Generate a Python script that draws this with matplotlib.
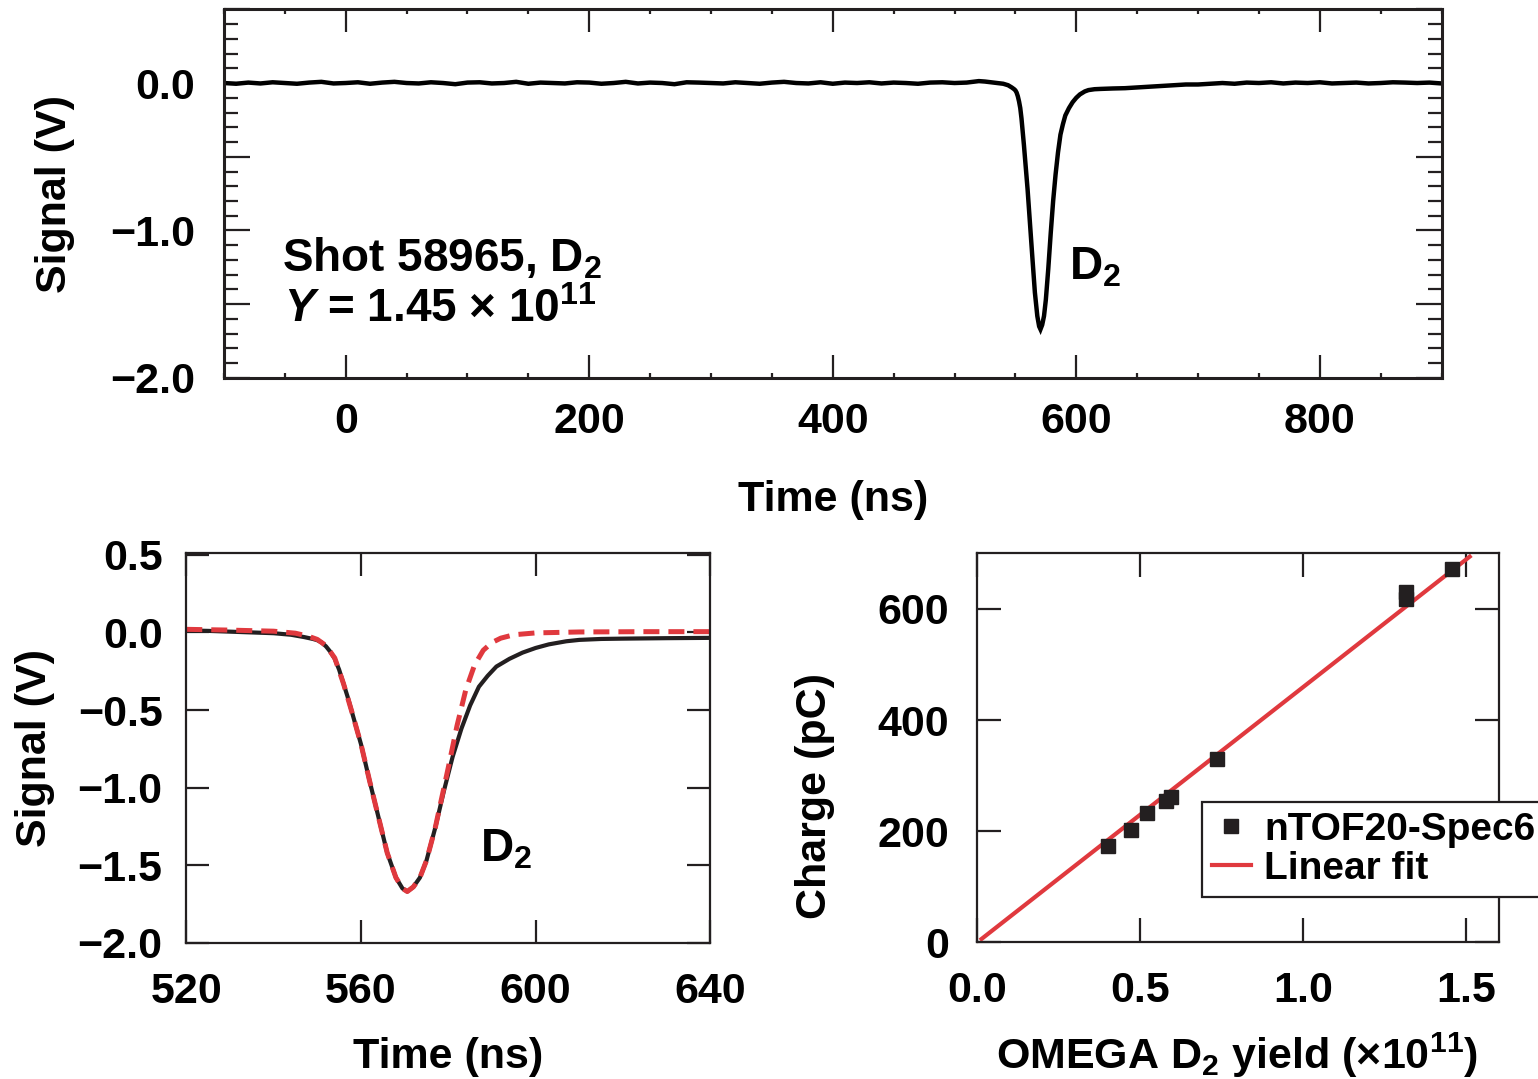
import numpy as np
import matplotlib
matplotlib.use("Agg")
import matplotlib.pyplot as plt
from matplotlib.ticker import MultipleLocator, FixedLocator, FuncFormatter

plt.rcParams['font.family'] = ['Liberation Sans', 'DejaVu Sans']
plt.rcParams['font.weight'] = 'bold'
plt.rcParams['mathtext.fontset'] = 'custom'
plt.rcParams['mathtext.rm'] = 'Liberation Sans:bold'
plt.rcParams['mathtext.it'] = 'Liberation Sans:italic:bold'
plt.rcParams['mathtext.bf'] = 'Liberation Sans:bold'
plt.rcParams['axes.unicode_minus'] = True

BLACK = '#231F20'
RED = '#E0393E'

# ---------------- data ----------------
# full trace (top panel): pre-pulse baseline, pulse, post-pulse baseline
pre_time = np.arange(-100, 520, 10)
pre_signal = [0.0, -0.005, 0.003, -0.003, 0.005, 0.0, -0.005, 0.003, 0.008, -0.003,
              0.0, 0.005, -0.005, 0.003, 0.008, 0.0, -0.003, 0.005, 0.0, -0.008,
              0.003, 0.005, -0.003, 0.0, 0.008, -0.005, 0.003, 0.0, -0.003, 0.005,
              0.003, -0.005, 0.0, 0.008, -0.003, 0.003, 0.0, -0.008, 0.005, 0.003,
              0.0, -0.003, 0.005, 0.0, -0.005, 0.003, 0.008, 0.0, -0.003, 0.005,
              -0.005, 0.003, 0.0, 0.005, -0.003, 0.003, 0.0, -0.005, 0.003, 0.005,
              0.0, 0.003]

pulse_time = [520, 525, 530, 535, 540, 544, 547, 549, 550, 551,
              552, 553, 554, 555, 556, 557, 558, 560, 562, 564,
              566, 568, 569.5, 570.6, 572, 573.5, 575, 577, 579, 581,
              583, 585, 587, 589, 591, 594, 597, 600, 603, 607,
              610, 615, 620, 630, 640]
pulse_signal = [0.013, 0.01, 0.005, 0.0, -0.005, -0.015, -0.03, -0.042, -0.05, -0.065,
                -0.09, -0.125, -0.17, -0.24, -0.33, -0.42, -0.52, -0.72, -0.96, -1.19,
                -1.42, -1.58, -1.65, -1.67, -1.64, -1.58, -1.47, -1.26, -1.02, -0.80,
                -0.62, -0.47, -0.35, -0.28, -0.22, -0.17, -0.13, -0.10, -0.077, -0.057,
                -0.048, -0.042, -0.04, -0.037, -0.035]

post_time = np.arange(650, 910, 10)
post_signal = [-0.03, -0.025, -0.02, -0.015, -0.01, -0.01, -0.005, 0.0, -0.005, 0.003,
               0.0, 0.005, -0.003, 0.003, 0.0, 0.005, -0.003, 0.0, 0.003, -0.003,
               0.0, 0.005, 0.003, 0.0, 0.003, -0.003]

# fit of the pulse (bottom-left, red dashed)
fit_time = [520, 530, 540, 545, 548, 550, 552, 554, 556, 558,
            560, 562, 564, 566, 568, 569.5, 570.6, 572, 573.5, 575,
            577, 578, 580, 582, 584, 586, 588, 590, 592, 595,
            600, 610, 625, 640]
fit_signal = [0.02, 0.015, 0.008, -0.005, -0.025, -0.045, -0.085, -0.165, -0.33, -0.52,
              -0.72, -0.96, -1.19, -1.42, -1.58, -1.65, -1.67, -1.64, -1.58, -1.47,
              -1.26, -1.13, -0.87, -0.60, -0.37, -0.21, -0.115, -0.065, -0.037, -0.015,
              -0.003, 0.003, 0.005, 0.005]

# calibration (bottom-right)
yield_1e11 = [0.401, 0.472, 0.522, 0.580, 0.595, 0.737, 1.316, 1.316, 1.456]
charge_pC = [174, 202, 233, 255, 262, 330, 630, 618, 671]
linfit_x = [0.015, 1.51]
linfit_y = [6, 694]

# ---------------- figure ----------------
fig = plt.figure(figsize=(15.38, 10.79), dpi=100)
ax1 = fig.add_axes([0.1456, 0.6497, 0.7917, 0.3417])
ax2 = fig.add_axes([0.1211, 0.1263, 0.3408, 0.3609])
ax3 = fig.add_axes([0.6350, 0.1267, 0.3397, 0.3605])

TICK_FS = 31
LABEL_FS = 31
ANN_FS = 33


def style(ax, spine_lw):
    for s in ax.spines.values():
        s.set_linewidth(spine_lw)
        s.set_color(BLACK)
    ax.tick_params(which='both', direction='in', top=True, right=True,
                   color=BLACK, labelcolor='black', labelsize=TICK_FS, width=1.6)


def fmt1(v, pos):
    s = f"{v:.1f}"
    return s.replace('-', '\u2212')

# ---- top panel ----
trace_time = np.concatenate([pre_time, pulse_time, post_time])
trace_signal = np.concatenate([pre_signal, pulse_signal, post_signal])
ax1.plot(trace_time, trace_signal, color='black', lw=3.2, solid_joinstyle='miter')
ax1.set_xlim(-100, 900)
ax1.set_ylim(-2.0, 0.5)
style(ax1, 2.2)
ax1.xaxis.set_major_locator(MultipleLocator(200))
ax1.xaxis.set_minor_locator(MultipleLocator(50))
ax1.yaxis.set_major_locator(MultipleLocator(0.5))
ax1.yaxis.set_minor_locator(MultipleLocator(0.1))
ax1.yaxis.set_major_formatter(FuncFormatter(
    lambda v, p: fmt1(v, p) if abs(v - round(v)) < 1e-6 else ''))
ax1.tick_params(axis='x', which='major', length=16.5, pad=17)
ax1.tick_params(axis='x', which='minor', length=3.6)
ax1.tick_params(axis='y', which='major', length=18.7, pad=21)
ax1.tick_params(axis='y', which='minor', length=10)
ax1.set_xlabel('Time (ns)', fontsize=LABEL_FS, fontweight='bold')
ax1.xaxis.set_label_coords(0.5, -0.331)
ax1.xaxis.label.set_va('center')
ax1.set_ylabel('Signal (V)', fontsize=LABEL_FS, fontweight='bold')
ax1.yaxis.set_label_coords(-0.1388, 0.5)
ax1.yaxis.label.set_va('center')
ax1.text(-52.4, -1.275, r'Shot 58965, D$_2$', fontsize=ANN_FS, fontweight='bold',
         ha='left', va='baseline')
ax1.text(-50.5, -1.62, r'$Y$ = 1.45 × 10$^{11}$', fontsize=ANN_FS, fontweight='bold',
         ha='left', va='baseline')
ax1.text(594.2, -1.33, r'D$_2$', fontsize=ANN_FS, fontweight='bold',
         ha='left', va='baseline')

# ---- bottom-left panel ----
ax2.plot(pulse_time, pulse_signal, color=BLACK, lw=3.0)
ax2.plot(fit_time, fit_signal, color=RED, lw=3.6, dashes=(3.2, 1.8))
ax2.set_xlim(520, 640)
ax2.set_ylim(-2.0, 0.51)
style(ax2, 1.6)
ax2.xaxis.set_major_locator(FixedLocator([520, 560, 600, 640]))
ax2.yaxis.set_major_locator(FixedLocator([-2.0, -1.5, -1.0, -0.5, 0.0, 0.5]))
ax2.yaxis.set_major_formatter(FuncFormatter(fmt1))
ax2.tick_params(axis='both', which='major', length=16.5)
ax2.tick_params(axis='x', pad=21)
ax2.tick_params(axis='y', pad=17)
ax2.set_xlabel('Time (ns)', fontsize=LABEL_FS, fontweight='bold')
ax2.xaxis.set_label_coords(0.5, -0.2935)
ax2.xaxis.label.set_va('center')
ax2.set_ylabel('Signal (V)', fontsize=LABEL_FS, fontweight='bold')
ax2.yaxis.set_label_coords(-0.2885, 0.5)
ax2.yaxis.label.set_va('center')
ax2.text(587.2, -1.477, r'D$_2$', fontsize=ANN_FS, fontweight='bold',
         ha='left', va='baseline')

# ---- bottom-right panel ----
ax3.plot(linfit_x, linfit_y, color=RED, lw=3.0, label='Linear fit', zorder=2)
ax3.plot(yield_1e11, charge_pC, linestyle='none', marker='s', markersize=10,
         color=BLACK, label='nTOF20-Spec6', zorder=3)
ax3.set_xlim(0, 1.6)
ax3.set_ylim(0, 700)
style(ax3, 1.6)
ax3.xaxis.set_major_locator(FixedLocator([0.0, 0.5, 1.0, 1.5]))
ax3.xaxis.set_major_formatter(FuncFormatter(fmt1))
ax3.yaxis.set_major_locator(FixedLocator([0, 200, 400, 600]))
ax3.tick_params(axis='both', which='major', length=17)
ax3.tick_params(axis='x', pad=21)
ax3.tick_params(axis='y', pad=20)
ax3.set_xlabel(r'OMEGA D$_2$ yield (×10$^{11}$)', fontsize=LABEL_FS, fontweight='bold')
ax3.xaxis.set_label_coords(0.4985, -0.29)
ax3.xaxis.label.set_va('center')
ax3.set_ylabel('Charge (pC)', fontsize=LABEL_FS, fontweight='bold')
ax3.yaxis.set_label_coords(-0.309, 0.376)
ax3.yaxis.label.set_va('center')

h, l = ax3.get_legend_handles_labels()
leg = ax3.legend(h[::-1], l[::-1], loc='upper left', bbox_to_anchor=(0.4315, 0.3607),
                 borderaxespad=0, frameon=True, fancybox=False,
                 handlelength=1.0, handletextpad=0.35, borderpad=0.25,
                 labelspacing=0.08, prop={'weight': 'bold', 'size': 28})
leg.get_frame().set_edgecolor(BLACK)
leg.get_frame().set_linewidth(1.6)
leg.get_frame().set_alpha(None)
leg.get_frame().set_facecolor('white')

fig.savefig('out.png', dpi=100)
